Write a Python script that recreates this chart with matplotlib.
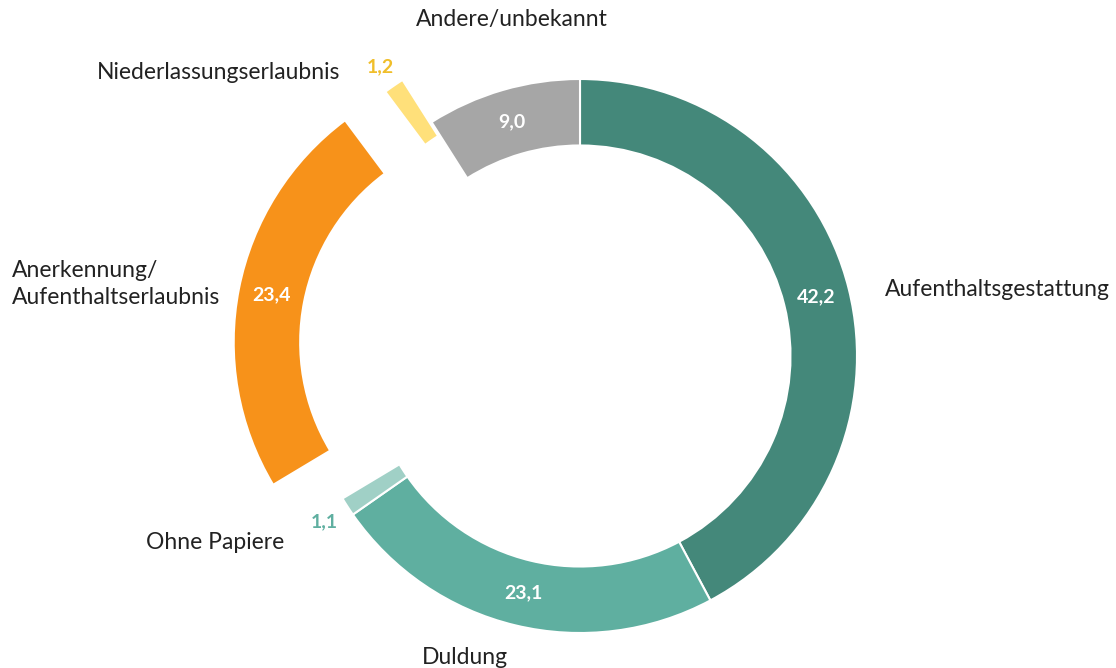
import numpy as np
import matplotlib
matplotlib.use("Agg")
import matplotlib.pyplot as plt

# ---- data ----
categories = ["Aufenthaltsgestattung", "Duldung", "Ohne Papiere",
              "Anerkennung/\nAufenthaltserlaubnis", "Niederlassungserlaubnis",
              "Andere/unbekannt"]
values = [42.2, 23.1, 1.1, 23.4, 1.2, 9.0]
value_labels = ["42,2", "23,1", "1,1", "23,4", "1,2", "9,0"]

# ---- styles ----
colors = ["#44887A", "#5FAFA0", "#A0D0C6", "#F7921A", "#FFE07A", "#A6A6A6"]
explode = [0, 0, 0, 0.255, 0.185, 0]
value_colors = ["white", "white", "#5FAFA0", "white", "#F0BE2A", "white"]
inside = [True, True, False, True, False, True]
outside_radius = [None, None, 1.10, None, 1.27, None]
# category label placements (x, y, ha) in axis units (radius = 1)
cat_pos = [(1.10, 0.24, "left"), (-0.415, -1.087, "center"),
           (-1.318, -0.675, "center"), (-2.05, 0.26, "left"),
           (-0.866, 1.025, "right"), (-0.245, 1.213, "center")]

plt.rcParams["font.family"] = ["Lato", "DejaVu Sans"]

W, H = 1116, 668
fig = plt.figure(figsize=(W / 100, H / 100), dpi=100)
ax = fig.add_axes([0, 0, 1, 1])
R = 277.0
cx, cy = 580.0, 356.0

wedges, _ = ax.pie(values, colors=colors, explode=explode, startangle=90,
                   counterclock=False, radius=1.0,
                   wedgeprops=dict(width=0.24, edgecolor="white", linewidth=1.5),
                   center=(0, 0), frame=False)
ax.set_xlim(-cx / R, (W - cx) / R)
ax.set_ylim(-(H - cy) / R, cy / R)
ax.set_aspect("equal")
ax.axis("off")

total = sum(values)
cum = np.cumsum([0] + values)
for i, v in enumerate(values):
    mid = (cum[i] + v / 2) / total * 2 * np.pi  # clockwise from top
    d = np.array([np.sin(mid), np.cos(mid)])
    r = 0.88 + explode[i] if inside[i] else outside_radius[i]
    x, y = d * r
    ax.text(x, y, value_labels[i], ha="center", va="center", fontsize=14,
            fontweight="bold", color=value_colors[i])
    px, py, ha = cat_pos[i]
    ax.text(px, py, categories[i], ha=ha, va="center", fontsize=16.5,
            color="#222222", multialignment="left", linespacing=1.35)

fig.savefig("out.png", dpi=100, facecolor="white")
